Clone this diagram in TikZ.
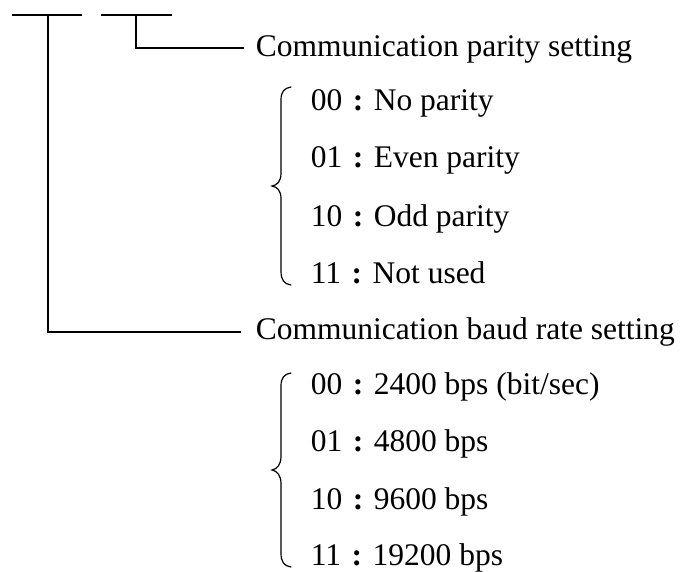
\documentclass[tikz,border=0pt]{standalone}
\usepackage{fontspec}
\setmainfont{Liberation Serif}
\newcommand{\fwcolon}{\makebox[1em]{\textbf{:}}}
\begin{document}
\begin{tikzpicture}[x=1pt,y=-1pt,line width=1.6pt,
  txt/.style={anchor=base west,inner sep=0pt,font=\fontsize{31.5}{36}\selectfont},
  bracestyle/.style={line width=1.2pt,line cap=round}]
\useasboundingbox (0,0) rectangle (680,572);
% top bars
\coordinate (a1) at (12,15); \coordinate (a2) at (82,15);
\coordinate (b1) at (101,15); \coordinate (b2) at (172,15);
\coordinate (ajoin) at (48,15); \coordinate (bjoin) at (136,15);
\coordinate (hend1) at (244,48); \coordinate (hend2) at (241,332);
\draw (a1) -- (a2);
\draw (b1) -- (b2);
\draw (bjoin) |- (hend1);
\draw (ajoin) |- (hend2);
% headers
\node[txt] (hdr1) at (255,57) {Communication parity setting};
\node[txt] (hdr2) at (255,339) {Communication baud rate setting};
% parity entries
\node[txt] (p0) at (310,111) {00\fwcolon No parity};
\node[txt] (p1) at (310,168) {01\fwcolon Even parity};
\node[txt] (p2) at (310,226) {10\fwcolon Odd parity};
\node[txt] (p3) at (310,283) {11\fwcolon Not used};
% baud entries
\node[txt] (r0) at (310,394) {00\fwcolon 2400 bps (bit/sec)};
\node[txt] (r1) at (310,451) {01\fwcolon 4800 bps};
\node[txt] (r2) at (310,509) {10\fwcolon 9600 bps};
\node[txt] (r3) at (310,565) {11\fwcolon 19200 bps};
% braces
\draw[bracestyle] (291,87) .. controls (284,88) and (281,92) .. (281,100) -- (281,173)
  .. controls (281,182) and (277,185) .. (272,186)
  .. controls (277,187) and (281,190) .. (281,199) -- (281,271)
  .. controls (281,280) and (284,284) .. (291,285);
\draw[bracestyle] (291,373) .. controls (284,374) and (281,378) .. (281,386) -- (281,456)
  .. controls (281,465) and (277,469) .. (272,470)
  .. controls (277,471) and (281,475) .. (281,484) -- (281,553)
  .. controls (281,562) and (284,566) .. (291,567);
\end{tikzpicture}
\end{document}
